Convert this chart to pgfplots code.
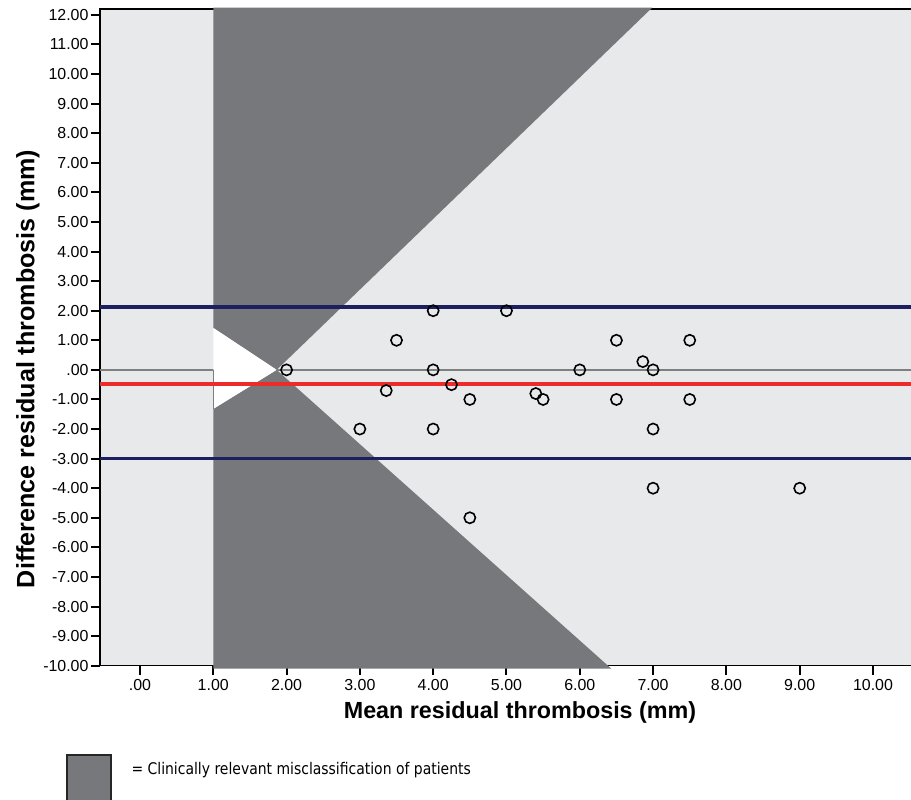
\documentclass[border=0pt]{standalone}
\usepackage{pgfplots}
\pgfplotsset{compat=1.18}
\usepackage{fontspec}
\setmainfont{Liberation Sans}
\newfontfamily\legfont[FakeStretch=0.87]{DejaVu Sans}
\definecolor{bglight}{HTML}{E8E9EB}
\definecolor{darkfill}{HTML}{77787C}
\definecolor{navy}{HTML}{1E1F5E}
\definecolor{redline}{HTML}{EE2B2B}
\definecolor{zerogray}{HTML}{7F7F7F}

\pgfplotstableread{
x y
2.00 0
3.36 -0.7
3.00 -2
3.50 1
4.00 2
4.00 0
4.00 -2
4.25 -0.5
4.50 -1
4.50 -5
5.00 2
5.40 -0.8
5.50 -1
6.00 0
6.50 1
6.50 -1
6.86 0.28
7.00 0
7.00 -2
7.00 -4
7.50 1
7.50 -1
9.00 -4
}\pts

\begin{document}
\begin{tikzpicture}[x=1bp,y=1bp]
\path[use as bounding box] (0,0) rectangle (911,800);
\begin{axis}[
  at={(100bp,134.3bp)}, anchor=south west,
  scale only axis, width=813.3bp, height=656.7bp,
  xmin=-0.545, xmax=10.55, ymin=-10, ymax=12.2,
  clip=false,
  axis background/.style={fill=bglight},
  axis line style={black, line width=1.4bp},
  xtick={0,1,2,3,4,5,6,7,8,9,10},
  xticklabels={.00,1.00,2.00,3.00,4.00,5.00,6.00,7.00,8.00,9.00,10.00},
  ytick={-10,-9,-8,-7,-6,-5,-4,-3,-2,-1,0,1,2,3,4,5,6,7,8,9,10,11,12},
  yticklabels={-10.00,-9.00,-8.00,-7.00,-6.00,-5.00,-4.00,-3.00,-2.00,-1.00,.00,1.00,2.00,3.00,4.00,5.00,6.00,7.00,8.00,9.00,10.00,11.00,12.00},
  xtick pos=bottom, ytick pos=left, tick align=outside,
  major tick length=9bp,
  tick style={black, line width=2bp},
  tick label style={font=\fontsize{16}{16}\selectfont},
  xticklabel style={yshift=-1bp},
  yticklabel style={xshift=1bp},
]
\addplot[zerogray, line width=1.5bp] coordinates {(-0.545,0) (10.55,0)};
\addplot[fill=darkfill, draw=none] coordinates {(1,12.25) (6.99,12.25) (1.865,0) (1,1.42)} -- cycle;
\addplot[fill=darkfill, draw=none] coordinates {(1,-10.1) (6.43,-10.1) (1.865,0) (1,-1.32)} -- cycle;
\addplot[fill=white, draw=none] coordinates {(1,1.42) (1.865,0) (1,-1.32)} -- cycle;
\addplot[zerogray, line width=1bp] coordinates {(1,0) (1,-1.32)};
\addplot[navy, line width=3.5bp] coordinates {(-0.545,2.12) (10.55,2.12)};
\addplot[navy, line width=3.5bp] coordinates {(-0.545,-2.99) (10.55,-2.99)};
\addplot[redline, line width=3.5bp] coordinates {(-0.545,-0.48) (10.55,-0.48)};
\addplot[only marks, mark=o, mark size=5.6bp, mark options={line width=1.6bp, black}] table[x=x,y=y] {\pts};
\end{axis}
\node[font=\fontsize{23.4}{28}\selectfont\bfseries] at (520,88) {Mean residual thrombosis (mm)};
\node[font=\fontsize{25.2}{28}\selectfont\bfseries, rotate=90] at (28,431) {Difference residual thrombosis (mm)};
\draw[fill=darkfill, line width=1.5bp, draw=black!85] (67,-3) rectangle (111,45);
\node[anchor=west, font=\legfont\fontsize{16.1}{18}\selectfont] at (128,30) {= Clinically relevant misclassification of patients};
\end{tikzpicture}
\end{document}
